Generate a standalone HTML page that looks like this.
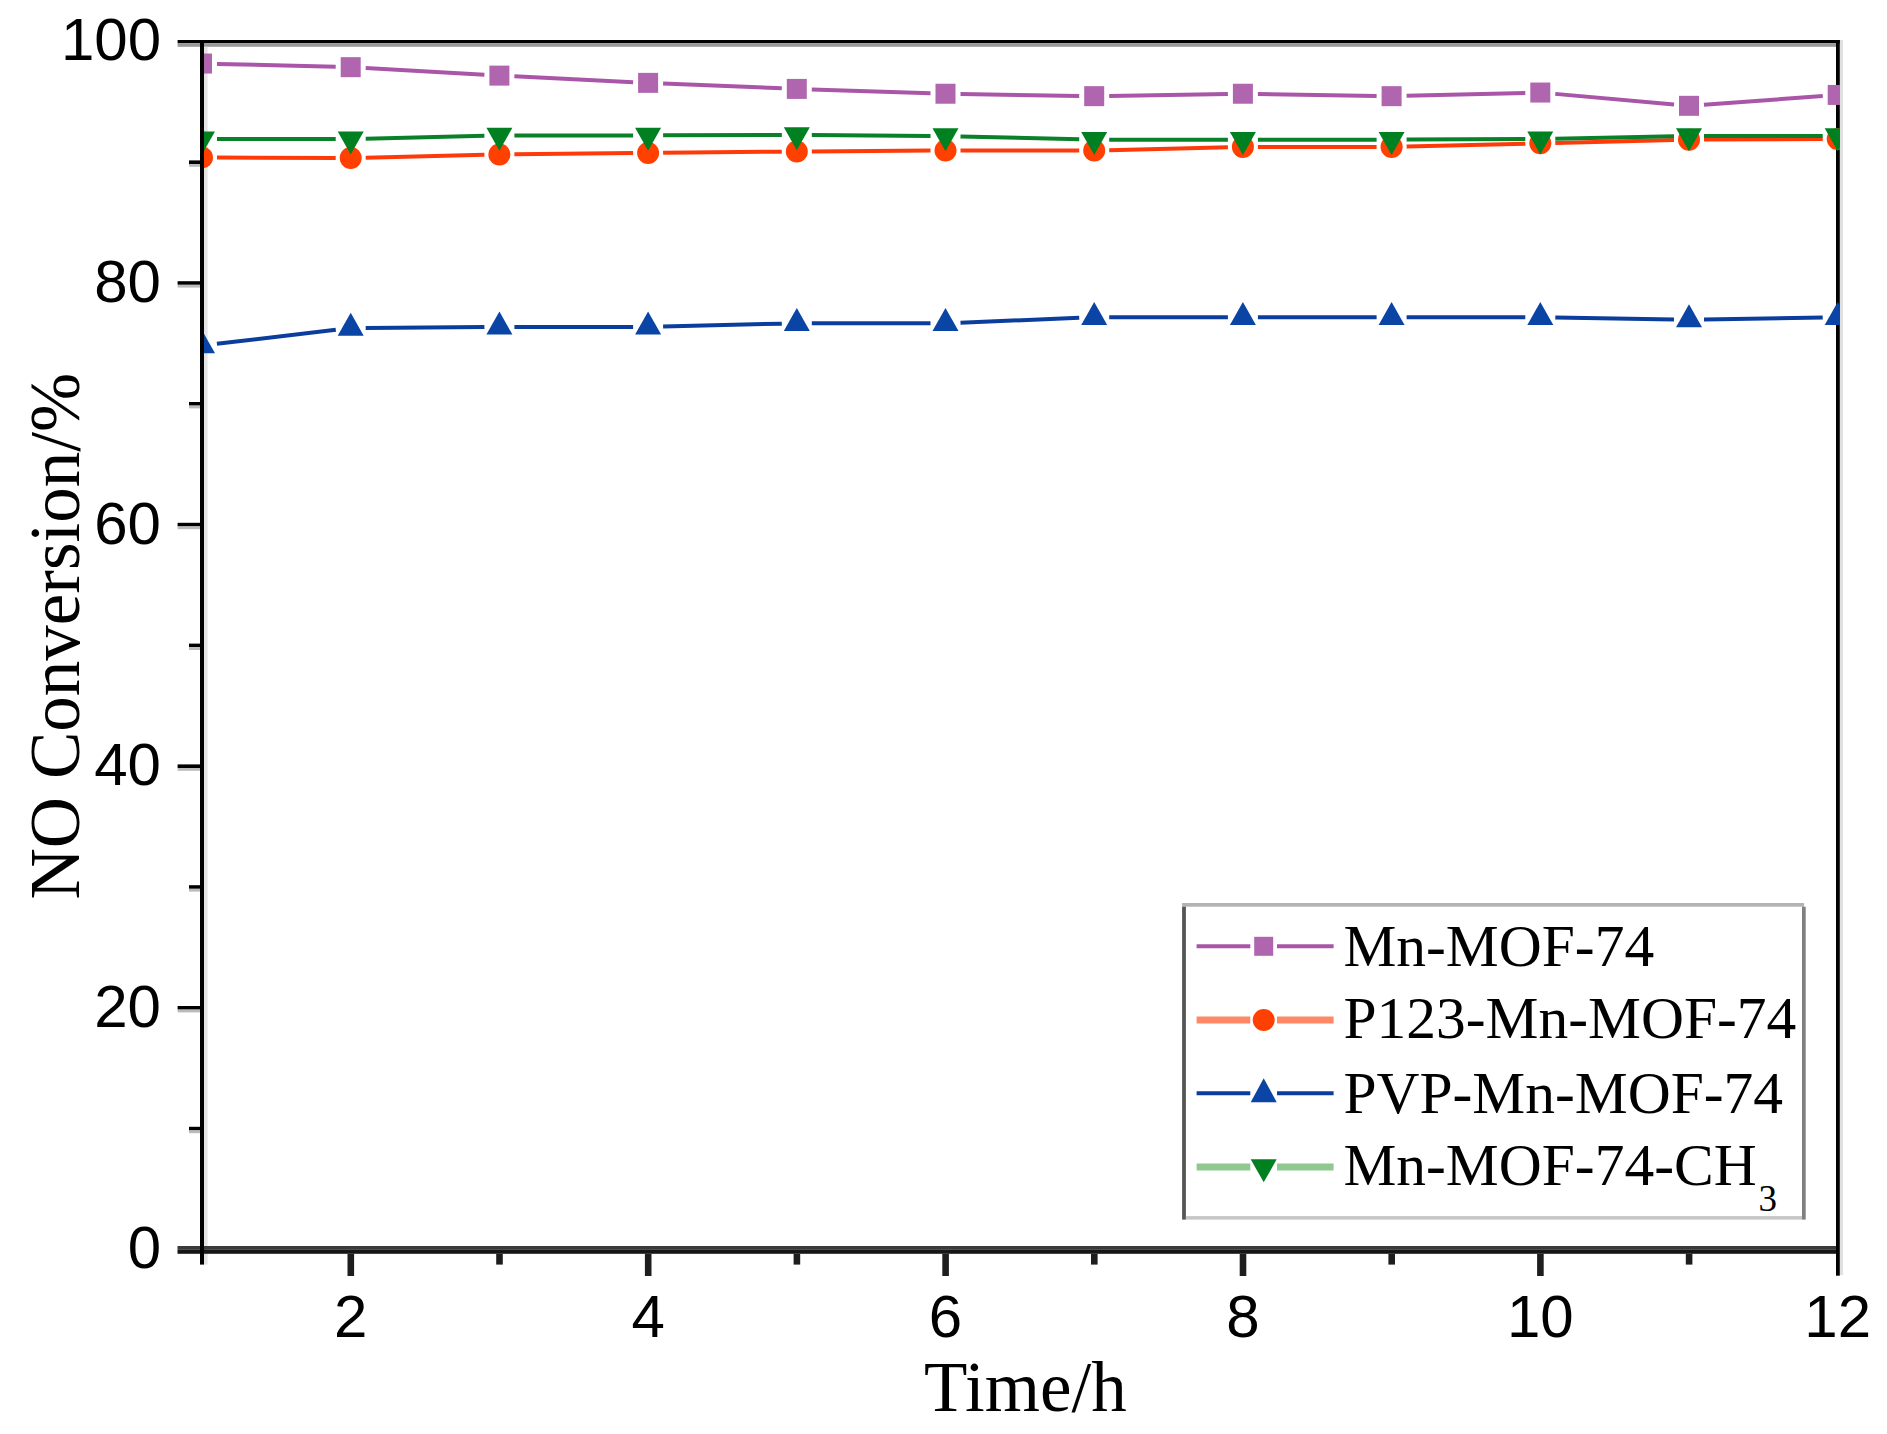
<!DOCTYPE html>
<html><head><meta charset="utf-8"><title>NO Conversion vs Time</title>
<style>html,body{margin:0;padding:0;background:#fff;}svg{display:block;}</style>
</head><body>
<svg width="1887" height="1434" viewBox="0 0 1887 1434"><defs><clipPath id="pc"><rect x="204" y="40" width="1636" height="1206"/></clipPath></defs>
<rect x="177.6" y="40" width="1662.4" height="3.3" fill="#000"/><rect x="177.6" y="43.3" width="1658.4" height="3.5" fill="#999"/><rect x="1839.8" y="40" width="3.2" height="1235" fill="#e0e0e0"/><rect x="204" y="46.8" width="3.6" height="1217.8" fill="#e4e4e4"/><rect x="177.5" y="1246" width="1658.5" height="3.8" fill="#3a3a3a"/><rect x="177.5" y="1249.8" width="1658.5" height="4" fill="#161616"/><rect x="200" y="40" width="4" height="1224.6" fill="#000"/><rect x="1836" y="40" width="3.8" height="1235.7" fill="#000"/><rect x="189" y="1126.8" width="11" height="3.6" fill="#000"/><rect x="189" y="1130.4" width="11" height="2.8" fill="#bbb"/><rect x="177.6" y="1006" width="22.4" height="3.6" fill="#000"/><rect x="177.6" y="1009.6" width="22.4" height="2.8" fill="#bbb"/><rect x="189" y="885.2" width="11" height="3.6" fill="#000"/><rect x="189" y="888.8" width="11" height="2.8" fill="#bbb"/><rect x="177.6" y="764.4" width="22.4" height="3.6" fill="#000"/><rect x="177.6" y="768" width="22.4" height="2.8" fill="#bbb"/><rect x="189" y="643.6" width="11" height="3.6" fill="#000"/><rect x="189" y="647.2" width="11" height="2.8" fill="#bbb"/><rect x="177.6" y="522.8" width="22.4" height="3.6" fill="#000"/><rect x="177.6" y="526.4" width="22.4" height="2.8" fill="#bbb"/><rect x="189" y="402" width="11" height="3.6" fill="#000"/><rect x="189" y="405.6" width="11" height="2.8" fill="#bbb"/><rect x="177.6" y="281.2" width="22.4" height="3.6" fill="#000"/><rect x="177.6" y="284.8" width="22.4" height="2.8" fill="#bbb"/><rect x="189" y="160.4" width="11" height="3.6" fill="#000"/><rect x="189" y="164" width="11" height="2.8" fill="#bbb"/><rect x="347.5" y="1253.8" width="6.6" height="22.2" fill="#1e1e1e"/><rect x="496.2" y="1253.8" width="6.6" height="10.8" fill="#1e1e1e"/><rect x="644.9" y="1253.8" width="6.6" height="22.2" fill="#1e1e1e"/><rect x="793.6" y="1253.8" width="6.6" height="10.8" fill="#1e1e1e"/><rect x="942.3" y="1253.8" width="6.6" height="22.2" fill="#1e1e1e"/><rect x="1091" y="1253.8" width="6.6" height="10.8" fill="#1e1e1e"/><rect x="1239.7" y="1253.8" width="6.6" height="22.2" fill="#1e1e1e"/><rect x="1388.4" y="1253.8" width="6.6" height="10.8" fill="#1e1e1e"/><rect x="1537.1" y="1253.8" width="6.6" height="22.2" fill="#1e1e1e"/><rect x="1685.8" y="1253.8" width="6.6" height="10.8" fill="#1e1e1e"/>
<g clip-path="url(#pc)"><g stroke="#A955A8" stroke-width="4" fill="none"><line x1="217" y1="63.91" x2="335.7" y2="66.8"/><line x1="365.68" y1="68.02" x2="484.42" y2="74.77"/><line x1="514.38" y1="76.35" x2="633.12" y2="82.14"/><line x1="663.09" y1="83.48" x2="781.81" y2="88.3"/><line x1="811.79" y1="89.4" x2="930.51" y2="93.26"/><line x1="960.5" y1="93.99" x2="1079.2" y2="95.92"/><line x1="1109.2" y1="95.92" x2="1227.9" y2="93.99"/><line x1="1257.9" y1="93.99" x2="1376.6" y2="95.92"/><line x1="1406.6" y1="95.79" x2="1525.3" y2="92.9"/><line x1="1555.24" y1="93.87" x2="1674.06" y2="104.49"/><line x1="1703.96" y1="104.73" x2="1822.74" y2="96.05"/></g><rect x="192" y="53.54" width="20" height="20" fill="#B066AE"/><rect x="340.7" y="57.17" width="20" height="20" fill="#B066AE"/><rect x="489.4" y="65.62" width="20" height="20" fill="#B066AE"/><rect x="638.1" y="72.87" width="20" height="20" fill="#B066AE"/><rect x="786.8" y="78.91" width="20" height="20" fill="#B066AE"/><rect x="935.5" y="83.74" width="20" height="20" fill="#B066AE"/><rect x="1084.2" y="86.16" width="20" height="20" fill="#B066AE"/><rect x="1232.9" y="83.74" width="20" height="20" fill="#B066AE"/><rect x="1381.6" y="86.16" width="20" height="20" fill="#B066AE"/><rect x="1530.3" y="82.54" width="20" height="20" fill="#B066AE"/><rect x="1679" y="95.82" width="20" height="20" fill="#B066AE"/><rect x="1827.7" y="84.95" width="20" height="20" fill="#B066AE"/><g stroke="#FF3A0A" stroke-width="4" fill="none"><line x1="217" y1="157.58" x2="335.7" y2="157.96"/><line x1="365.7" y1="157.66" x2="484.4" y2="154.86"/><line x1="514.4" y1="154.35" x2="633.1" y2="153.09"/><line x1="663.1" y1="152.79" x2="781.8" y2="151.63"/><line x1="811.8" y1="151.39" x2="930.5" y2="150.62"/><line x1="960.5" y1="150.52" x2="1079.2" y2="150.52"/><line x1="1109.2" y1="150.15" x2="1227.9" y2="147.26"/><line x1="1257.9" y1="146.9" x2="1376.6" y2="146.9"/><line x1="1406.6" y1="146.53" x2="1525.3" y2="143.64"/><line x1="1555.3" y1="142.91" x2="1674" y2="140.01"/><line x1="1704" y1="139.59" x2="1822.7" y2="139.1"/></g><circle cx="202" cy="157.53" r="11" fill="#FF4000"/><circle cx="350.7" cy="158.01" r="11" fill="#FF4000"/><circle cx="499.4" cy="154.51" r="11" fill="#FF4000"/><circle cx="648.1" cy="152.94" r="11" fill="#FF4000"/><circle cx="796.8" cy="151.49" r="11" fill="#FF4000"/><circle cx="945.5" cy="150.52" r="11" fill="#FF4000"/><circle cx="1094.2" cy="150.52" r="11" fill="#FF4000"/><circle cx="1242.9" cy="146.9" r="11" fill="#FF4000"/><circle cx="1391.6" cy="146.9" r="11" fill="#FF4000"/><circle cx="1540.3" cy="143.27" r="11" fill="#FF4000"/><circle cx="1689" cy="139.65" r="11" fill="#FF4000"/><circle cx="1837.7" cy="139.04" r="11" fill="#FF4000"/><g stroke="#0A3D9C" stroke-width="4" fill="none"><line x1="216.9" y1="343.86" x2="335.8" y2="329.85"/><line x1="365.7" y1="327.97" x2="484.4" y2="327.01"/><line x1="514.4" y1="326.89" x2="633.1" y2="326.89"/><line x1="663.1" y1="326.52" x2="781.8" y2="323.63"/><line x1="811.8" y1="323.26" x2="930.5" y2="323.26"/><line x1="960.49" y1="322.66" x2="1079.21" y2="317.83"/><line x1="1109.2" y1="317.22" x2="1227.9" y2="317.22"/><line x1="1257.9" y1="317.22" x2="1376.6" y2="317.22"/><line x1="1406.6" y1="317.22" x2="1525.3" y2="317.22"/><line x1="1555.3" y1="317.47" x2="1674" y2="319.4"/><line x1="1704" y1="319.4" x2="1822.7" y2="317.47"/></g><polygon points="202,330.28 215,353.28 189,353.28" fill="#0A44A4"/><polygon points="350.7,312.76 363.7,335.76 337.7,335.76" fill="#0A44A4"/><polygon points="499.4,311.55 512.4,334.55 486.4,334.55" fill="#0A44A4"/><polygon points="648.1,311.55 661.1,334.55 635.1,334.55" fill="#0A44A4"/><polygon points="796.8,307.93 809.8,330.93 783.8,330.93" fill="#0A44A4"/><polygon points="945.5,307.93 958.5,330.93 932.5,330.93" fill="#0A44A4"/><polygon points="1094.2,301.89 1107.2,324.89 1081.2,324.89" fill="#0A44A4"/><polygon points="1242.9,301.89 1255.9,324.89 1229.9,324.89" fill="#0A44A4"/><polygon points="1391.6,301.89 1404.6,324.89 1378.6,324.89" fill="#0A44A4"/><polygon points="1540.3,301.89 1553.3,324.89 1527.3,324.89" fill="#0A44A4"/><polygon points="1689,304.31 1702,327.31 1676,327.31" fill="#0A44A4"/><polygon points="1837.7,301.89 1850.7,324.89 1824.7,324.89" fill="#0A44A4"/><g stroke="#0A8028" stroke-width="4" fill="none"><line x1="217" y1="139.04" x2="335.7" y2="139.04"/><line x1="365.7" y1="138.68" x2="484.4" y2="135.79"/><line x1="514.4" y1="135.42" x2="633.1" y2="135.42"/><line x1="663.1" y1="135.36" x2="781.8" y2="134.88"/><line x1="811.8" y1="134.94" x2="930.5" y2="135.9"/><line x1="960.5" y1="136.39" x2="1079.2" y2="139.28"/><line x1="1109.2" y1="139.65" x2="1227.9" y2="139.65"/><line x1="1257.9" y1="139.65" x2="1376.6" y2="139.65"/><line x1="1406.6" y1="139.59" x2="1525.3" y2="139.1"/><line x1="1555.3" y1="138.74" x2="1674" y2="136.33"/><line x1="1704" y1="136.02" x2="1822.7" y2="136.02"/></g><polygon points="189,131.38 215,131.38 202,154.38" fill="#008020"/><polygon points="337.7,131.38 363.7,131.38 350.7,154.38" fill="#008020"/><polygon points="486.4,127.75 512.4,127.75 499.4,150.75" fill="#008020"/><polygon points="635.1,127.75 661.1,127.75 648.1,150.75" fill="#008020"/><polygon points="783.8,127.15 809.8,127.15 796.8,150.15" fill="#008020"/><polygon points="932.5,128.36 958.5,128.36 945.5,151.36" fill="#008020"/><polygon points="1081.2,131.98 1107.2,131.98 1094.2,154.98" fill="#008020"/><polygon points="1229.9,131.98 1255.9,131.98 1242.9,154.98" fill="#008020"/><polygon points="1378.6,131.98 1404.6,131.98 1391.6,154.98" fill="#008020"/><polygon points="1527.3,131.38 1553.3,131.38 1540.3,154.38" fill="#008020"/><polygon points="1676,128.36 1702,128.36 1689,151.36" fill="#008020"/><polygon points="1824.7,128.36 1850.7,128.36 1837.7,151.36" fill="#008020"/></g>
<g font-family="&quot;Liberation Sans&quot;, Arial, sans-serif" font-size="60" fill="#000"><text x="161" y="1268.3" text-anchor="end">0</text><text x="161" y="1026.7" text-anchor="end">20</text><text x="161" y="785.1" text-anchor="end">40</text><text x="161" y="543.5" text-anchor="end">60</text><text x="161" y="301.9" text-anchor="end">80</text><text x="161" y="60.3" text-anchor="end">100</text><text x="350.7" y="1336.5" text-anchor="middle">2</text><text x="648.1" y="1336.5" text-anchor="middle">4</text><text x="945.5" y="1336.5" text-anchor="middle">6</text><text x="1242.9" y="1336.5" text-anchor="middle">8</text><text x="1540.3" y="1336.5" text-anchor="middle">10</text><text x="1837.7" y="1336.5" text-anchor="middle">12</text></g>
<text x="1025.4" y="1411.4" text-anchor="middle" font-family="&quot;Liberation Serif&quot;, &quot;Times New Roman&quot;, serif" font-size="71" fill="#000">Time/h</text>
<text transform="translate(78.5,899.4) rotate(-90)" x="0" y="0" font-family="&quot;Liberation Serif&quot;, &quot;Times New Roman&quot;, serif" font-size="71" fill="#000">NO Conversion/%</text>
<rect x="1182.1" y="903" width="622" height="3.7" fill="#b3b3b3"/><rect x="1182.1" y="906.7" width="3.8" height="312.9" fill="#555"/><rect x="1802" y="906.7" width="3.7" height="312.9" fill="#808080"/><rect x="1185.9" y="1216.1" width="616.1" height="3.5" fill="#c6c6c6"/><line x1="1196.6" y1="946.3" x2="1250.3" y2="946.3" stroke="#A955A8" stroke-width="4"/><line x1="1277" y1="946.3" x2="1333.6" y2="946.3" stroke="#A955A8" stroke-width="4"/><rect x="1254.2" y="936.8" width="19" height="19" fill="#B066AE"/><text x="1343.4" y="966.3" font-family="&quot;Liberation Serif&quot;, &quot;Times New Roman&quot;, serif" font-size="59.5" fill="#000">Mn-MOF-74</text><line x1="1196.6" y1="1020" x2="1250.3" y2="1020" stroke="#FF8866" stroke-width="7"/><line x1="1277" y1="1020" x2="1333.6" y2="1020" stroke="#FF8866" stroke-width="7"/><circle cx="1263.7" cy="1020" r="11" fill="#FF4000"/><text x="1343.4" y="1038.3" font-family="&quot;Liberation Serif&quot;, &quot;Times New Roman&quot;, serif" font-size="59.5" fill="#000">P123-Mn-MOF-74</text><line x1="1196.6" y1="1093.2" x2="1250.3" y2="1093.2" stroke="#0A3D9C" stroke-width="4"/><line x1="1277" y1="1093.2" x2="1333.6" y2="1093.2" stroke="#0A3D9C" stroke-width="4"/><polygon points="1263.7,1078.2 1276.7,1102.2 1250.7,1102.2" fill="#0A44A4"/><text x="1343.4" y="1112.6" font-family="&quot;Liberation Serif&quot;, &quot;Times New Roman&quot;, serif" font-size="59.5" fill="#000">PVP-Mn-MOF-74</text><line x1="1196.6" y1="1167" x2="1250.3" y2="1167" stroke="#90C890" stroke-width="7"/><line x1="1277" y1="1167" x2="1333.6" y2="1167" stroke="#90C890" stroke-width="7"/><polygon points="1250.7,1159.33 1276.7,1159.33 1263.7,1182.33" fill="#008020"/><text x="1343.4" y="1185.4" font-family="&quot;Liberation Serif&quot;, &quot;Times New Roman&quot;, serif" font-size="59.5" fill="#000">Mn-MOF-74-CH<tspan font-size="37" dx="2" dy="26">3</tspan></text></svg>
</body></html>
